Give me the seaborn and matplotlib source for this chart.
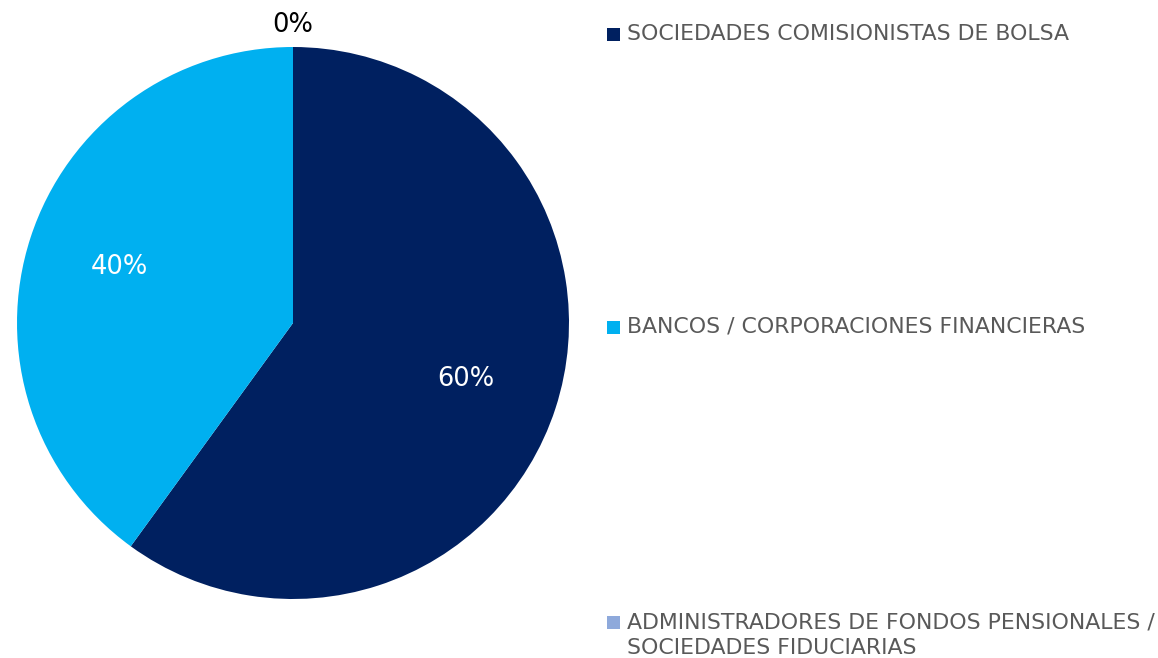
import numpy as np
import seaborn as sns
import matplotlib.pyplot as plt
from matplotlib.patches import Rectangle

sns.set_theme(style="white")
plt.rcParams["font.family"] = ["DejaVu Sans"]

categories = [
    "SOCIEDADES COMISIONISTAS DE BOLSA",
    "BANCOS / CORPORACIONES FINANCIERAS",
    "ADMINISTRADORES DE FONDOS PENSIONALES /\nSOCIEDADES FIDUCIARIAS",
]
shares = [60, 40, 0]
pct_labels = ["60%", "40%", "0%"]
colors = ["#002060", "#00B0F0", "#8EA9DB"]

fig = plt.figure(figsize=(11.58, 6.58), dpi=100)
ax = fig.add_axes([17 / 1158, 59 / 658, 552 / 1158, 552 / 658])

ax.pie(shares, colors=colors, startangle=90, counterclock=False,
       radius=1, wedgeprops=dict(linewidth=0))
ax.set_xlim(-1, 1)
ax.set_ylim(-1, 1)
ax.set_aspect("equal")
ax.axis("off")

# percent labels from wedge mid angles
total = sum(shares)
start = 90.0
for val, lab in zip(shares, pct_labels):
    sweep = 360.0 * val / total
    mid = np.deg2rad(start - sweep / 2)
    if val > 0:
        r, col = 0.66, "white"
    else:
        r, col = 1.08, "black"
    ax.text(r * np.cos(mid), r * np.sin(mid), lab, color=col,
            fontsize=18.5, ha="center", va="center")
    start -= sweep

# legend on the right
ys = [34, 327, 622]
for cat, col, y in zip(categories, colors, ys):
    fy = 1 - y / 658
    fig.patches.append(Rectangle((607 / 1158, fy - 6.5 / 658), 13 / 1158, 13 / 658,
                                 transform=fig.transFigure, facecolor=col,
                                 edgecolor="none"))
    for i, line in enumerate(cat.split("\n")):
        fig.text(627 / 1158, fy - i * 26 / 658, line, color="#595959",
                 fontsize=15.8, ha="left", va="center")

fig.savefig("out.png", dpi=100)
